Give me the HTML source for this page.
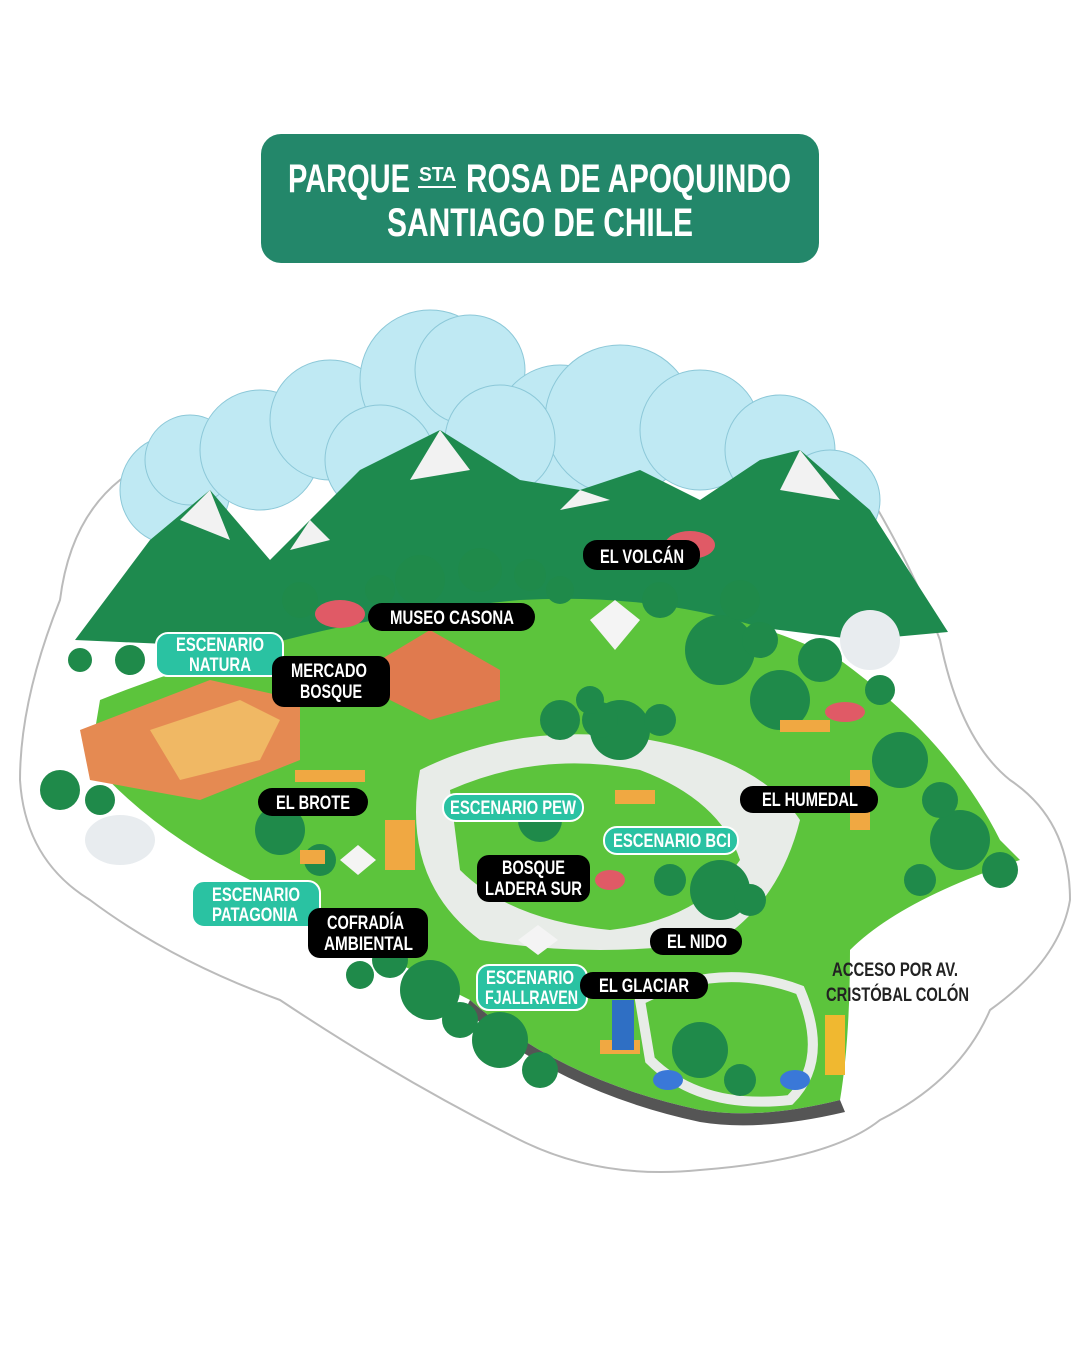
<!DOCTYPE html>
<html><head><meta charset="utf-8"><style>
html,body{margin:0;padding:0;background:#fff;width:1080px;height:1350px;overflow:hidden}
svg{display:block}
text{font-family:"Liberation Sans",sans-serif;font-weight:bold}
</style></head><body>
<svg width="1080" height="1350" viewBox="0 0 1080 1350">
<rect x="261" y="134" width="558" height="129" rx="20" fill="#23876a"/>
<text x="288" y="192" font-size="40" fill="#fff" textLength="122" lengthAdjust="spacingAndGlyphs">PARQUE</text>
<text x="419" y="181" font-size="20" fill="#fff" textLength="37" lengthAdjust="spacingAndGlyphs">STA</text>
<rect x="418" y="186" width="38" height="2" fill="#fff"/>
<text x="466" y="192" font-size="40" fill="#fff" textLength="325" lengthAdjust="spacingAndGlyphs">ROSA DE APOQUINDO</text>
<text x="387" y="236" font-size="40" fill="#fff" textLength="306" lengthAdjust="spacingAndGlyphs">SANTIAGO DE CHILE</text>

<path d="M120 480 Q70 520 60 600 Q20 700 20 780 Q25 860 90 900 Q170 960 280 1000 Q400 1080 520 1140 Q600 1180 700 1170 Q830 1160 880 1120 Q960 1080 990 1010 Q1060 960 1070 900 Q1070 820 1010 780 Q960 740 940 640 Q910 560 860 480 Q700 380 500 390 Q250 400 120 480Z" fill="#fff" stroke="#bbb" stroke-width="2"/>
<g fill="#bfe9f3" stroke="#8cc8d8" stroke-width="1">
<circle cx="175" cy="490" r="55"/><circle cx="190" cy="460" r="45"/><circle cx="260" cy="450" r="60"/><circle cx="330" cy="420" r="60"/><circle cx="430" cy="380" r="70"/><circle cx="470" cy="370" r="55"/><circle cx="560" cy="430" r="65"/><circle cx="620" cy="420" r="75"/><circle cx="700" cy="430" r="60"/><circle cx="780" cy="450" r="55"/><circle cx="830" cy="500" r="50"/><circle cx="380" cy="460" r="55"/><circle cx="500" cy="440" r="55"/>
</g>
<g fill="#1e8a4e">
<polygon points="75,640 150,540 210,490 270,560 310,520 360,470 440,430 520,480 580,490 640,470 700,500 760,460 800,450 870,510 948,632 860,640 700,620 500,640 300,650"/>
</g>
<g fill="#f2f2f2">
<polygon points="210,490 180,520 230,540"/><polygon points="440,430 410,480 470,470"/><polygon points="800,450 780,490 840,500"/><polygon points="580,490 560,510 610,500"/><polygon points="310,520 290,550 330,540"/>
</g>
<path d="M100 700 Q300 620 520 600 Q700 590 840 660 Q950 740 1000 840 L1020 860 Q900 900 850 950 Q850 1040 840 1100 Q760 1120 700 1110 Q560 1080 470 1000 Q350 940 250 880 Q150 830 90 760Z" fill="#5cc43c"/>
<path d="M470 1000 Q560 1080 700 1110 Q760 1120 840 1100 L845 1112 Q760 1132 700 1122 Q560 1092 465 1010Z" fill="#555"/>
<path d="M420 770 Q520 720 650 740 Q760 760 800 820 Q780 900 720 940 Q600 960 480 940 Q400 880 420 770Z" fill="#e8ece8"/>
<path d="M450 790 Q540 750 640 770 Q720 800 740 860 Q700 920 610 930 Q510 920 460 870Z" fill="#5cc43c"/>
<path d="M640 1000 Q720 960 800 990 Q830 1060 790 1100 Q700 1110 650 1060Z" fill="#5cc43c" stroke="#e8ece8" stroke-width="10"/>
<polygon points="80,730 210,680 300,700 300,760 200,800 90,780" fill="#e58a52"/>
<polygon points="150,730 240,700 280,720 260,760 180,780" fill="#f0b864"/>
<polygon points="380,660 430,630 500,670 500,700 430,720 390,700" fill="#e07a4e"/>
<g fill="#1f8a4a">
<circle cx="420" cy="580" r="25"/><circle cx="480" cy="570" r="22"/><circle cx="300" cy="600" r="18"/><circle cx="720" cy="650" r="35"/><circle cx="780" cy="700" r="30"/><circle cx="900" cy="760" r="28"/><circle cx="960" cy="840" r="30"/><circle cx="620" cy="730" r="30"/><circle cx="560" cy="720" r="20"/><circle cx="280" cy="830" r="25"/><circle cx="430" cy="990" r="30"/><circle cx="500" cy="1040" r="28"/><circle cx="700" cy="1050" r="28"/><circle cx="720" cy="890" r="30"/><circle cx="60" cy="790" r="20"/><circle cx="130" cy="660" r="15"/><circle cx="880" cy="690" r="15"/><circle cx="540" cy="820" r="22"/>
<circle cx="380" cy="590" r="15"/><circle cx="530" cy="575" r="16"/><circle cx="560" cy="590" r="14"/><circle cx="660" cy="600" r="18"/><circle cx="740" cy="600" r="20"/><circle cx="820" cy="660" r="22"/><circle cx="760" cy="640" r="18"/><circle cx="940" cy="800" r="18"/><circle cx="1000" cy="870" r="18"/><circle cx="920" cy="880" r="16"/><circle cx="320" cy="860" r="16"/><circle cx="390" cy="960" r="18"/><circle cx="460" cy="1020" r="18"/><circle cx="540" cy="1070" r="18"/><circle cx="360" cy="975" r="14"/><circle cx="600" cy="720" r="18"/><circle cx="660" cy="720" r="16"/><circle cx="750" cy="900" r="16"/><circle cx="670" cy="880" r="16"/><circle cx="740" cy="1080" r="16"/><circle cx="100" cy="800" r="15"/><circle cx="80" cy="660" r="12"/><circle cx="590" cy="700" r="14"/>
</g>
<g fill="#e05a66"><ellipse cx="340" cy="614" rx="25" ry="14"/><ellipse cx="690" cy="545" rx="25" ry="14"/><ellipse cx="845" cy="712" rx="20" ry="10"/><ellipse cx="610" cy="880" rx="15" ry="10"/></g>
<ellipse cx="120" cy="840" rx="35" ry="25" fill="#e8ecef"/><ellipse cx="870" cy="640" rx="30" ry="30" fill="#e8ecef"/>
<polygon points="590,620 615,600 640,620 615,650" fill="#f4f4f4"/>
<polygon points="340,860 358,845 376,860 358,875" fill="#f4f4f4"/>
<polygon points="518,940 538,925 558,940 538,955" fill="#f4f4f4"/>
<g fill="#f0a842"><rect x="295" y="770" width="70" height="12"/><rect x="300" y="850" width="25" height="14"/><rect x="385" y="820" width="30" height="50"/><rect x="615" y="790" width="40" height="14"/><rect x="780" y="720" width="50" height="12"/><rect x="850" y="770" width="20" height="60"/><rect x="600" y="1040" width="40" height="14"/></g>
<rect x="612" y="1000" width="22" height="50" fill="#2f6fc4"/>
<ellipse cx="668" cy="1080" rx="15" ry="10" fill="#3a78d8"/><ellipse cx="795" cy="1080" rx="15" ry="10" fill="#3a78d8"/>
<rect x="825" y="1015" width="20" height="60" fill="#f0b830"/>

<g font-size="19" fill="#fff">
<rect x="583" y="540" width="117" height="30" rx="14" fill="#000"/><text x="600" y="563" textLength="84" lengthAdjust="spacingAndGlyphs">EL VOLCÁN</text>
<rect x="368" y="603" width="167" height="28" rx="14" fill="#000"/><text x="390" y="624" textLength="124" lengthAdjust="spacingAndGlyphs">MUSEO CASONA</text>
<rect x="156" y="633" width="127" height="43" rx="12" fill="#2ac2a2" stroke="#fff" stroke-width="2"/><text x="176" y="651" textLength="88" lengthAdjust="spacingAndGlyphs">ESCENARIO</text><text x="189" y="671" textLength="62" lengthAdjust="spacingAndGlyphs">NATURA</text>
<rect x="272" y="656" width="118" height="51" rx="12" fill="#000"/><text x="291" y="677" textLength="76" lengthAdjust="spacingAndGlyphs">MERCADO</text><text x="300" y="698" textLength="62" lengthAdjust="spacingAndGlyphs">BOSQUE</text>
<rect x="258" y="788" width="110" height="28" rx="14" fill="#000"/><text x="276" y="809" textLength="74" lengthAdjust="spacingAndGlyphs">EL BROTE</text>
<rect x="443" y="794" width="140" height="27" rx="13" fill="#2ac2a2" stroke="#fff" stroke-width="2"/><text x="450" y="814" textLength="126" lengthAdjust="spacingAndGlyphs">ESCENARIO PEW</text>
<rect x="740" y="786" width="138" height="27" rx="13" fill="#000"/><text x="762" y="806" textLength="96" lengthAdjust="spacingAndGlyphs">EL HUMEDAL</text>
<rect x="604" y="827" width="134" height="27" rx="13" fill="#2ac2a2" stroke="#fff" stroke-width="2"/><text x="613" y="847" textLength="118" lengthAdjust="spacingAndGlyphs">ESCENARIO BCI</text>
<rect x="477" y="855" width="113" height="47" rx="12" fill="#000"/><text x="502" y="874" textLength="63" lengthAdjust="spacingAndGlyphs">BOSQUE</text><text x="485" y="895" textLength="97" lengthAdjust="spacingAndGlyphs">LADERA SUR</text>
<rect x="192" y="881" width="128" height="46" rx="12" fill="#2ac2a2" stroke="#fff" stroke-width="2"/><text x="212" y="901" textLength="88" lengthAdjust="spacingAndGlyphs">ESCENARIO</text><text x="212" y="921" textLength="86" lengthAdjust="spacingAndGlyphs">PATAGONIA</text>
<rect x="308" y="908" width="120" height="50" rx="12" fill="#000"/><text x="327" y="929" textLength="77" lengthAdjust="spacingAndGlyphs">COFRADÍA</text><text x="324" y="950" textLength="89" lengthAdjust="spacingAndGlyphs">AMBIENTAL</text>
<rect x="650" y="928" width="92" height="27" rx="13" fill="#000"/><text x="667" y="948" textLength="60" lengthAdjust="spacingAndGlyphs">EL NIDO</text>
<rect x="477" y="965" width="110" height="45" rx="12" fill="#2ac2a2" stroke="#fff" stroke-width="2"/><text x="486" y="984" textLength="88" lengthAdjust="spacingAndGlyphs">ESCENARIO</text><text x="485" y="1004" textLength="93" lengthAdjust="spacingAndGlyphs">FJALLRAVEN</text>
<rect x="580" y="972" width="128" height="27" rx="13" fill="#000"/><text x="599" y="992" textLength="90" lengthAdjust="spacingAndGlyphs">EL GLACIAR</text>
</g>
<g font-size="19" fill="#222">
<text x="832" y="976" textLength="126" lengthAdjust="spacingAndGlyphs">ACCESO POR AV.</text>
<text x="826" y="1001" textLength="143" lengthAdjust="spacingAndGlyphs">CRISTÓBAL COLÓN</text>
</g>
</svg>
</body></html>
